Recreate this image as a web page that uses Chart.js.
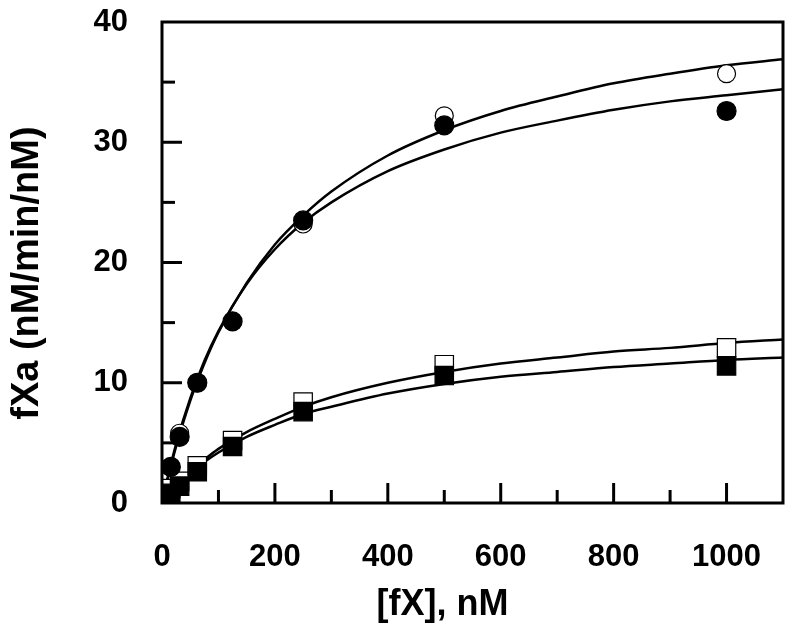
<!DOCTYPE html>
<html>
<head>
<meta charset="utf-8">
<script src="https://cdn.jsdelivr.net/npm/chart.js@4.4.1/dist/chart.umd.min.js"></script>
<style>
  html, body { margin: 0; padding: 0; background: #ffffff; }
  #wrap { width: 800px; height: 640px; }
</style>
</head>
<body>
<div id="wrap"><canvas id="c" width="800" height="640"></canvas></div>
<script>
// ---- data ----
const concX = [15.6, 31.25, 62.5, 125, 250, 500, 1000];
const openCircle   = [3.0, 5.8, 10.0, 15.1, 23.2, 32.2, 35.7];
const filledCircle = [3.0, 5.5, 10.0, 15.1, 23.5, 31.4, 32.6];
const openSquare   = [1.2, 1.8, 3.1, 5.2, 8.4, 11.5, 12.9];
const filledSquare = [0.8, 1.4, 2.6, 4.7, 7.6, 10.6, 11.4];

const fitX = [0, 10, 25, 50, 75, 100, 150, 200, 250, 300, 400, 500, 600, 700, 800, 900, 1000, 1100];
const fitCircleUpper = [0, 2.0, 4.7, 8.5, 11.6, 14.2, 18.3, 21.5, 23.9, 25.9, 28.9, 31.0, 32.6, 33.8, 34.9, 35.7, 36.4, 36.9];
const fitCircleLower = [0, 2.1, 4.9, 8.7, 11.8, 14.3, 18.2, 21.1, 23.3, 25.0, 27.6, 29.4, 30.8, 31.8, 32.7, 33.4, 33.9, 34.4];
const fitSquareUpper = [0, 0.6, 1.4, 2.6, 3.6, 4.5, 5.9, 7.0, 8.0, 8.8, 10.0, 10.9, 11.6, 12.1, 12.6, 12.9, 13.3, 13.6];
const fitSquareLower = [0, 0.6, 1.3, 2.4, 3.4, 4.2, 5.5, 6.5, 7.4, 8.0, 9.1, 9.9, 10.5, 10.9, 11.3, 11.6, 11.9, 12.1];

// trailing spaces offset the centred titles the way the original is placed
const xTitle = "[fX], nM      ";
const yTitle = "fXa (nM/min/nM)  ";

function pts(xs, ys) { return xs.map((x, i) => ({ x: x, y: ys[i] })); }

const FONT = "'Liberation Sans', Arial, Helvetica, sans-serif";

function markerSet(label, ys, style, filled, radius) {
  return {
    label: label,
    data: pts(concX, ys),
    showLine: false,
    pointStyle: style,
    pointRadius: radius,
    pointHoverRadius: radius,
    pointBackgroundColor: filled ? '#000000' : '#ffffff',
    pointBorderColor: '#000000',
    pointBorderWidth: 1.2
  };
}
function curveSet(label, ys) {
  return {
    label: label,
    data: pts(fitX, ys),
    showLine: true,
    pointRadius: 0,
    borderColor: '#000000',
    borderWidth: 2.5,
    cubicInterpolationMode: 'monotone',
    fill: false
  };
}

const frameTicks = {
  id: 'frameTicks',
  afterDatasetsDraw(chart) {
    const ctx = chart.ctx;
    const a = chart.chartArea;
    const xs = chart.scales.x, ys = chart.scales.y;
    ctx.save();
    ctx.strokeStyle = '#000';
    ctx.lineWidth = 3;
    ctx.lineCap = 'butt';
    xs.ticks.forEach(t => {
      if (t.value <= 0 || t.value >= 1100) return;
      const px = xs.getPixelForValue(t.value);
      const len = (t.value % 200 === 0) ? 20 : 13;
      ctx.beginPath(); ctx.moveTo(px, a.bottom); ctx.lineTo(px, a.bottom - len); ctx.stroke();
    });
    ys.ticks.forEach(t => {
      if (t.value <= 0 || t.value >= 40) return;
      const py = ys.getPixelForValue(t.value);
      const len = (t.value % 10 === 0) ? 20 : 13;
      ctx.beginPath(); ctx.moveTo(a.left, py); ctx.lineTo(a.left + len, py); ctx.stroke();
    });
    ctx.strokeRect(a.left, a.top, a.right - a.left, a.bottom - a.top);
    ctx.restore();
  }
};

new Chart(document.getElementById('c'), {
  type: 'scatter',
  data: {
    datasets: [
      markerSet('filled circle', filledCircle, 'circle', true, 9.5),
      markerSet('filled square', filledSquare, 'rect', true, 13),
      markerSet('open circle', openCircle, 'circle', false, 9),
      markerSet('open square', openSquare, 'rect', false, 13),
      curveSet('fit circle upper', fitCircleUpper),
      curveSet('fit circle lower', fitCircleLower),
      curveSet('fit square upper', fitSquareUpper),
      curveSet('fit square lower', fitSquareLower)
    ]
  },
  options: {
    responsive: false,
    animation: false,
    layout: { padding: { top: 22, right: 17, left: 0, bottom: 0 } },
    plugins: { legend: { display: false }, tooltip: { enabled: false } },
    scales: {
      x: {
        type: 'linear',
        min: 0, max: 1100,
        grid: { display: false },
        border: { display: false },
        ticks: {
          stepSize: 100,
          autoSkip: false,
          maxRotation: 0,
          padding: 28,
          color: '#000',
          font: { family: FONT, size: 31, weight: 'bold' },
          callback: v => (v % 200 === 0 && v <= 1000) ? String(v) : ''
        },
        title: {
          display: true,
          text: xTitle,
          color: '#000',
          font: { family: FONT, size: 36, weight: 'bold' },
          padding: { top: 0, bottom: 13 }
        },
        afterFit: s => { s.height = 137; s.paddingLeft = 0; s.paddingRight = 0; }
      },
      y: {
        type: 'linear',
        min: 0, max: 40,
        grid: { display: false },
        border: { display: false },
        ticks: {
          stepSize: 5,
          autoSkip: false,
          padding: 26,
          color: '#000',
          font: { family: FONT, size: 31, weight: 'bold' },
          callback: v => (v % 10 === 0) ? String(v) : ''
        },
        title: {
          display: true,
          text: yTitle,
          color: '#000',
          font: { family: FONT, size: 38, weight: 'bold' },
          padding: { top: 5, bottom: 0 }
        },
        afterFit: s => { s.width = 162; s.paddingTop = 0; s.paddingBottom = 0; }
      }
    }
  },
  plugins: [frameTicks]
});
</script>
</body>
</html>
